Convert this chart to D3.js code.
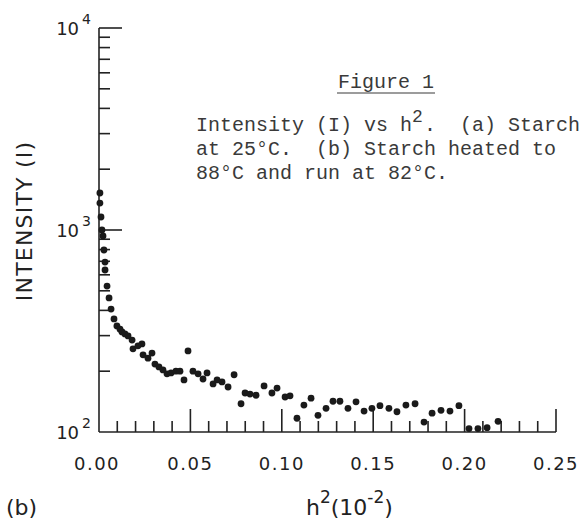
<html>
    <head>
        <script src="https://d3js.org/d3.v7.min.js"></script>
        <style type="text/css">
            body {
                background: #fff;
                margin: 0;
            }

            svg {
                display: block;
            }

            .lbl {
                font-family: "DejaVu Sans", sans-serif;
                fill: #222;
            }

            .typed {
                font-family: "Liberation Mono", "Courier New", monospace;
                fill: #3a3a3a;
                font-size: 20px;
            }
        </style>
    </head>

    <body>
        <svg id="chart" width="581" height="522" xmlns="http://www.w3.org/2000/svg"></svg>

        <script type="text/javascript">

        // h^2 (10^-2) and intensity
        const h2 = [
            0.0005, 0.0005, 0.0011, 0.0016, 0.0022, 0.0027, 0.0033, 0.0033, 0.0044, 0.0055,
            0.0066, 0.0082, 0.0098, 0.0115, 0.0126, 0.0142, 0.0159, 0.0181, 0.0186, 0.0213,
            0.0235, 0.0241, 0.0268, 0.0290, 0.0306, 0.0328, 0.0350, 0.0372, 0.0394, 0.0421,
            0.0443, 0.0465, 0.0487, 0.0514, 0.0542, 0.0569, 0.0591, 0.0624, 0.0646, 0.0673,
            0.0706, 0.0739, 0.0777, 0.0799, 0.0826, 0.0859, 0.0903, 0.0946, 0.0974, 0.1018,
            0.1045, 0.1083, 0.1121, 0.1160, 0.1198, 0.1242, 0.1280, 0.1318, 0.1362, 0.1406,
            0.1450, 0.1493, 0.1537, 0.1586, 0.1630, 0.1679, 0.1729, 0.1778, 0.1822, 0.1871,
            0.1920, 0.1969, 0.2024, 0.2073, 0.2123, 0.2183
        ];
        const intensity = [
            1525, 1360, 1160, 1000, 934, 796, 694, 634, 528, 461,
            406, 363, 335, 323, 313, 306, 299, 285, 258, 267,
            273, 241, 232, 246, 217, 210, 203, 194, 196, 200,
            200, 181, 252, 200, 194, 183, 196, 173, 181, 177,
            167, 192, 138, 156, 154, 152, 169, 156, 165, 149,
            151, 117, 136, 147, 121, 131, 142, 142, 131, 141,
            127, 131, 135, 131, 126, 136, 138, 112, 124, 128,
            127, 135, 104, 104, 105, 113
        ];

        const xTickLabels = ["0.00", "0.05", "0.10", "0.15", "0.20", "0.25"];
        const captionLines = [
            "Intensity (I) vs h",
            "at 25\u00b0C.  (b) Starch heated to",
            "88\u00b0C and run at 82\u00b0C."
        ];

        const svg = d3.select("#chart");
        const ink = "#222";

        const x = d3.scaleLinear().domain([0, 0.25]).range([99, 556]);
        const y = d3.scaleLog().domain([100, 10000]).range([432, 28]);

        const axes = svg.append("g")
            .attr("stroke", ink)
            .attr("stroke-width", 1.6)
            .attr("fill", "none");

        // axis lines
        axes.append("line")
            .attr("x1", x(0)).attr("x2", x(0.25))
            .attr("y1", y(100)).attr("y2", y(100));
        axes.append("line")
            .attr("x1", x(0)).attr("x2", x(0))
            .attr("y1", y(100)).attr("y2", y(10000));

        // x ticks point up, every 0.01, long every 0.05
        const xMajor = x.ticks(5);
        axes.selectAll(".xt")
            .data(x.ticks(25).filter(d => d > 0))
            .join("line")
            .attr("x1", d => x(d)).attr("x2", d => x(d))
            .attr("y1", y(100))
            .attr("y2", d => y(100) - (xMajor.some(m => Math.abs(m - d) < 1e-9) ? 23 : 11));

        // y ticks point right, long at the decades
        axes.selectAll(".yt")
            .data(y.ticks().filter(d => d > 100))
            .join("line")
            .attr("x1", x(0))
            .attr("x2", d => x(0) + (Number.isInteger(Math.log10(d)) ? 23 : 11))
            .attr("y1", d => y(d)).attr("y2", d => y(d));

        // y decade labels 10^n
        const decades = y.ticks().filter(d => Number.isInteger(Math.log10(d)));
        const yl = svg.selectAll(".ylab")
            .data(decades)
            .join("text")
            .attr("class", "lbl")
            .attr("x", 91)
            .attr("y", d => y(d) + 7)
            .attr("text-anchor", "end")
            .attr("font-size", 18)
            .text("10");
        yl.append("tspan")
            .attr("dx", 3)
            .attr("dy", -11)
            .attr("font-size", 14)
            .text(d => Math.round(Math.log10(d)));

        // x labels
        svg.selectAll(".xlab")
            .data(xMajor)
            .join("text")
            .attr("class", "lbl")
            .attr("x", (d, i) => x(d) + (i === 0 ? -2 : 0))
            .attr("y", 470)
            .attr("text-anchor", "middle")
            .attr("font-size", 18)
            .attr("letter-spacing", 1.5)
            .text((d, i) => xTickLabels[i]);

        // axis titles
        svg.append("text")
            .attr("class", "lbl")
            .attr("transform", "translate(32,221) rotate(-90)")
            .attr("text-anchor", "middle")
            .attr("font-size", 22)
            .attr("letter-spacing", 1.2)
            .text("INTENSITY (I)");

        svg.append("text")
            .attr("class", "lbl")
            .attr("x", 6)
            .attr("y", 515)
            .attr("font-size", 22)
            .text("(b)");

        const xt = svg.append("text")
            .attr("class", "lbl")
            .attr("x", 306)
            .attr("y", 515)
            .attr("font-size", 22);
        xt.append("tspan").text("h");
        xt.append("tspan").attr("dy", -12).attr("font-size", 17).text("2");
        xt.append("tspan").attr("dy", 12).text("(10");
        xt.append("tspan").attr("dy", -12).attr("font-size", 17).text("-2");
        xt.append("tspan").attr("dy", 12).text(")");

        // typed caption
        svg.append("text")
            .attr("class", "typed")
            .attr("x", 386)
            .attr("y", 88)
            .attr("text-anchor", "middle")
            .text("Figure 1");
        svg.append("line")
            .attr("x1", 337).attr("x2", 435)
            .attr("y1", 93).attr("y2", 93)
            .attr("stroke", "#3a3a3a")
            .attr("stroke-width", 1.2);

        const cap = svg.selectAll(".cap")
            .data(captionLines)
            .join("text")
            .attr("class", "typed")
            .attr("x", 196)
            .attr("y", (d, i) => 131 + i * 24)
            .attr("xml:space", "preserve")
            .style("white-space", "pre")
            .text(d => d);
        // raised 2 keeps a full typewriter cell
        cap.filter((d, i) => i === 0).append("tspan")
            .attr("dy", -9).attr("font-size", 18).attr("letter-spacing", 1.2).text("2");
        cap.filter((d, i) => i === 0).append("tspan")
            .attr("dy", 9).text(".  (a) Starch");

        // points
        svg.append("g")
            .selectAll("circle")
            .data(h2.map((v, i) => ({ h: v, I: intensity[i] })))
            .join("circle")
            .attr("cx", d => x(d.h))
            .attr("cy", d => y(d.I))
            .attr("r", 3.4)
            .attr("fill", "#1a1a1a");
        </script>
    </body>
</html>
